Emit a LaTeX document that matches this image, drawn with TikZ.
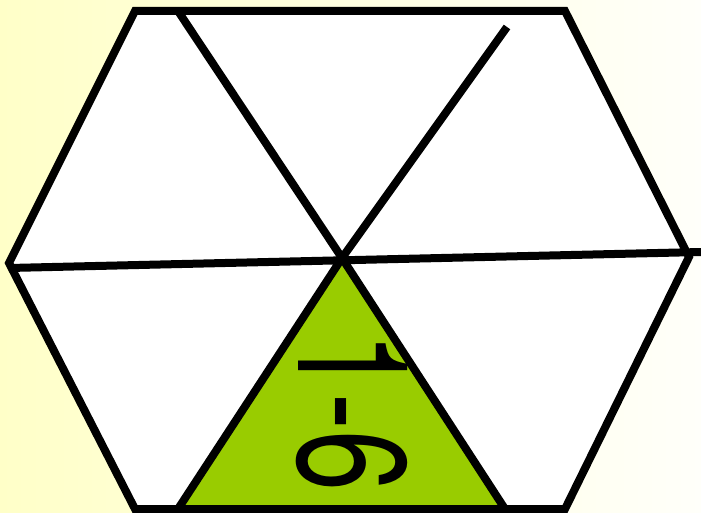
\documentclass[tikz,border=0pt]{standalone}
\usepackage{fontspec}
\setmainfont{TeX Gyre Heros}
\usepackage{graphicx}
\definecolor{bgyellow}{RGB}{255,255,200}
\definecolor{bgwhite}{RGB}{255,255,250}
\definecolor{leaf}{RGB}{153,204,0}
\tikzset{
  edge/.style={draw=black, line width=8pt, line join=miter},
  label/.style={inner sep=0pt, rotate=-90, font=\fontsize{110}{110}\selectfont}
}
\begin{document}
\begin{tikzpicture}[x=1pt,y=-1pt]
\shade[left color=bgyellow, right color=bgwhite] (0,0) rectangle (701,513);
\useasboundingbox (0,0) rectangle (701,513);
\coordinate (TL) at (135,11);
\coordinate (TR) at (565,11);
\coordinate (R) at (689,257);
\coordinate (BR) at (565,509);
\coordinate (BL) at (135,509);
\coordinate (L) at (9,263);
\coordinate (C) at (342,258);
\coordinate (A1) at (178,11);
\coordinate (A2) at (507,27);
\coordinate (H1) at (9,268);
\coordinate (H2) at (701,252);
\coordinate (G1) at (178,509);
\coordinate (G2) at (505,509);
\path[edge, fill=white] (TL) -- (TR) -- (R) -- (BR) -- (BL) -- (L) -- cycle;
\draw[edge] (A1) -- (C);
\draw[edge] (A2) -- (C);
\draw[edge] (H1) -- (H2);
\path[edge, fill=leaf] (C) -- (G2) -- (G1) -- cycle;
\node[label] (t) at (352,412) {\scalebox{1}[1.4]{1-6}};
\end{tikzpicture}
\end{document}
